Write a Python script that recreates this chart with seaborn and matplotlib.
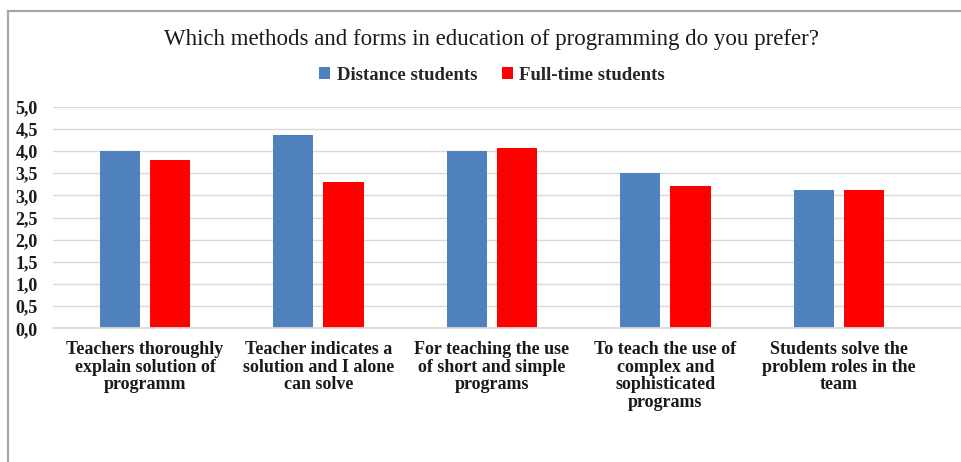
import matplotlib
matplotlib.use("Agg")
import matplotlib.pyplot as plt
from matplotlib.patches import Patch, Rectangle
from matplotlib.ticker import FuncFormatter, MultipleLocator
import pandas as pd
import seaborn as sns

categories = [
    "Teachers thoroughly\nexplain solution of\nprogramm",
    "Teacher indicates a\nsolution and I alone\ncan solve",
    "For teaching the use\nof short and simple\nprograms",
    "To teach the use of\ncomplex and\nsophisticated\nprograms",
    "Students solve the\nproblem roles in the\nteam",
]
series_names = ["Distance students", "Full-time students"]
distance = [4.0, 4.37, 4.0, 3.5, 3.11]
full_time = [3.8, 3.29, 4.06, 3.21, 3.11]
colors = ["#4f81bd", "#ff0000"]
title = "Which methods and forms in education of programming do you prefer?"

df = pd.DataFrame({
    "category": categories * 2,
    "group": [series_names[0]] * len(categories) + [series_names[1]] * len(categories),
    "value": distance + full_time,
})

sns.set_theme(style="white")
plt.rcParams["font.family"] = ["Liberation Serif", "DejaVu Serif"]

fig = plt.figure(figsize=(9.62, 4.62), dpi=100)
W, H = 962, 462

# outer frame of the chart area
fig.patches.append(Rectangle((8 / W, -0.1), 1.2, (H - 11) / H + 0.1,
                             transform=fig.transFigure, fill=False,
                             edgecolor="#a6a6a6", linewidth=1.6, zorder=0))

ax = fig.add_axes([53 / W, (H - 328.3) / H, (962 - 53) / W, (328.3 - 106.7) / H])
sns.barplot(data=df, x="category", y="value", hue="group", palette=colors,
            width=0.58, gap=0.2, ax=ax, legend=False, saturation=1,
            edgecolor="none")

ax.set_xlim(-0.53, 4.71)
ax.set_ylim(0, 5)
ax.yaxis.set_major_locator(MultipleLocator(0.5))
ax.yaxis.set_major_formatter(FuncFormatter(lambda v, p: f"{v:.1f}".replace(".", ",")))
ax.grid(axis="y", color="#d9d9d9", linewidth=1)
ax.set_axisbelow(True)
for side in ["top", "right", "left"]:
    ax.spines[side].set_visible(False)
ax.spines["bottom"].set_color("#d9d9d9")
ax.tick_params(axis="both", length=0)
ax.tick_params(axis="y", pad=11)
ax.tick_params(axis="x", pad=9)
ax.set_xlabel("")
ax.set_ylabel("")
for lab in ax.get_yticklabels():
    lab.set_fontsize(13)
    lab.set_fontweight("bold")
    lab.set_color("#1a1a1a")
for lab in ax.get_xticklabels():
    lab.set_fontsize(13)
    lab.set_fontweight("bold")
    lab.set_color("#1a1a1a")
    lab.set_linespacing(1.06)
    lab.set_horizontalalignment("center")

fig.text(491.5 / W, (H - 39) / H, title, ha="center", va="center",
         fontsize=16.5, color="#1a1a1a")

handles = [Patch(facecolor=c, edgecolor="none", label=n) for c, n in zip(colors, series_names)]
fig.legend(handles=handles, loc="center", bbox_to_anchor=(492 / W, (H - 75) / H),
           ncol=2, frameon=False, handlelength=0.6, handleheight=0.6,
           handletextpad=0.35, columnspacing=1.3,
           prop={"family": ["Liberation Serif"], "weight": "bold", "size": 13.5})

fig.savefig("out.png", dpi=100, facecolor="white")
